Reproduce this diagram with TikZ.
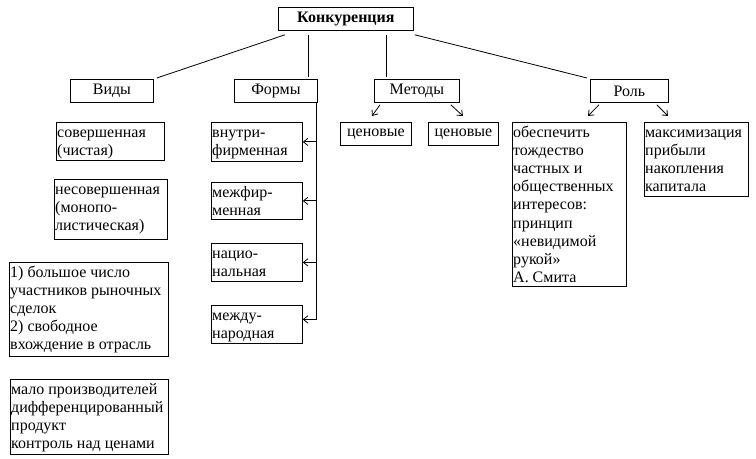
\documentclass[tikz,border=0pt]{standalone}
\usepackage{fontspec}
\setmainfont{Liberation Serif}
\usetikzlibrary{arrows.meta}
\newlength\pxu
\setlength\pxu{0.75pt}
\newcommand\cellbox[3]{\parbox[t][#2\pxu][t]{#1\pxu}{\fontsize{12pt}{13.65pt}\selectfont\raggedright\leftskip=0.6pt\rule{0pt}{11.1pt}#3}}
\begin{document}
\begin{tikzpicture}[x=0.75pt,y=-0.75pt,
  line width=0.6pt,
  hdr/.style 2 args={draw, inner sep=0pt, anchor=north west, font=\fontsize{12pt}{14pt}\selectfont,
    minimum width=#1*0.75pt, minimum height=#2*0.75pt},
  cell/.style={draw, inner sep=0pt, anchor=north west},
  arr/.style={-{Straight Barb[length=3.4pt,width=5.5pt]}}]
\useasboundingbox (0,0) rectangle (756,459);
\fill[white] (0,0) rectangle (756,459);

% headers
\node[hdr={135}{23}] (title) at (278,7) {\textbf{Конкуренция}};
\node[hdr={83}{23}] (vidy) at (70,79) {Виды};
\node[hdr={83}{23}] (formy) at (234,79) {Формы};
\node[hdr={85}{23}] (metody) at (374,79) {Методы};
\node[hdr={78}{23}] (rol) at (590,79) {Роль};

% Виды column
\node[cell] (sov) at (56,122) {\cellbox{108}{38}{совершенная\\(чистая)}};
\node[cell] (nesov) at (54,179) {\cellbox{113}{60}{несовершенная\\(монопо-\\листическая)}};
\node[cell] (usl1) at (9,262) {\cellbox{159}{94}{1) большое число\\участников рыночных\\сделок\\2) свободное\\вхождение в отрасль}};
\node[cell] (usl2) at (10,379) {\cellbox{158}{75}{мало производителей\\дифференцированный\\продукт\\контроль над ценами}};

% Формы column
\node[cell] (vnutri) at (211,122) {\cellbox{91}{39}{внутри-\\фирменная}};
\node[cell] (mezhf) at (211,182) {\cellbox{91}{37}{межфир-\\менная}};
\node[cell] (nats) at (211,243) {\cellbox{91}{38}{нацио-\\нальная}};
\node[cell] (mezhd) at (211,305) {\cellbox{91}{38}{между-\\народная}};

% Методы
\node[hdr={71}{23}] (cen1) at (340,122) {ценовые};
\node[hdr={70}{23}] (cen2) at (428,122) {ценовые};

% Роль
\node[cell] (obesp) at (512,122) {\cellbox{114}{164}{обеспечить\\тождество\\частных и\\общественных\\интересов:\\принцип\\«невидимой\\рукой»\\А. Смита}};
\node[cell] (maks) at (644,122) {\cellbox{104}{74}{максимизация\\прибыли\\накопления\\капитала}};

% connectors from title
\draw ([shift={(7,4)}]title.south west) -- ([shift={(3,-1)}]vidy.north east);
\draw ([shift={(30,4)}]title.south west) -- ([shift={(74,-2)}]formy.north west);
\draw ([shift={(108,4)}]title.south west) -- ([shift={(12,-2)}]metody.north west);
\draw ([shift={(1,4)}]title.south east) -- ([shift={(-3,-1)}]rol.north west);

% Формы bus
\coordinate (bt) at ([shift={(-1,0)}]formy.south east);
\draw[arr] (bt) |- ([shift={(0,-5)}]mezhd.east);
\draw[arr] (bt |- vnutri.east) -- (vnutri.east);
\draw[arr] (bt |- mezhf.east) -- (mezhf.east);
\draw[arr] (bt |- nats.east) -- (nats.east);

% Методы arrows
\draw[arr] ([shift={(6,2)}]metody.south west) -- ([shift={(32,-6)}]cen1.north west);
\draw[arr] ([shift={(-9,2)}]metody.south east) -- ([shift={(35,-6)}]cen2.north west);

% Роль arrows
\draw[arr] ([shift={(9,2)}]rol.south west) -- ([shift={(76,-6)}]obesp.north west);
\draw[arr] ([shift={(-12,2)}]rol.south east) -- ([shift={(24,-6)}]maks.north west);
\end{tikzpicture}
\end{document}
